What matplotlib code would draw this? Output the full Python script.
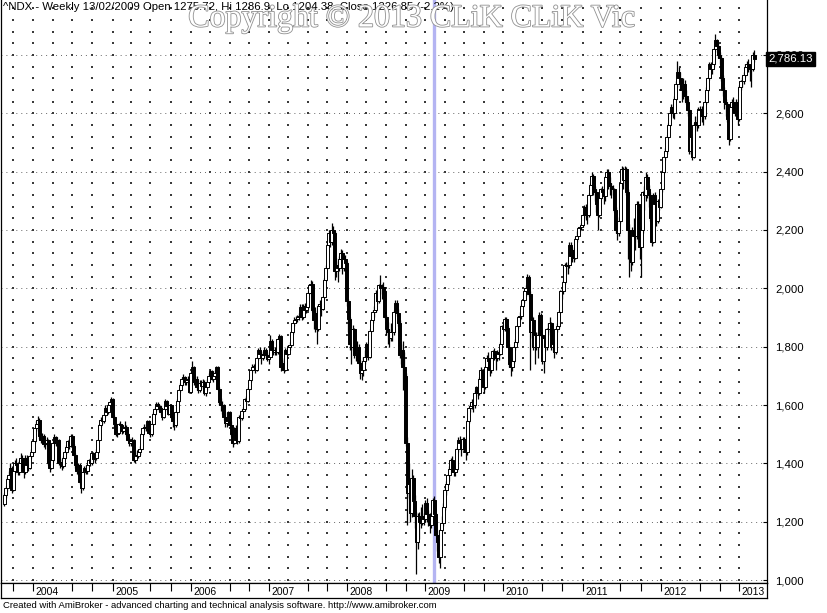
#!/usr/bin/env python3

import matplotlib
matplotlib.use("Agg")
import matplotlib.pyplot as plt
import matplotlib.patheffects as pe
import matplotlib.transforms as mtransforms
from matplotlib.patches import Rectangle
from matplotlib.collections import PatchCollection
import numpy as np
import pandas as pd

plt.rcParams["font.family"] = ["Liberation Sans", "DejaVu Sans"]

# weekly ^NDX bars, Fridays from 22/08/2003
first_week = "2003-08-22"
first_open = 1262

wk_close = [
    1290, 1315, 1345, 1360, 1385, 1310, 1375, 1400, 1395, 1370,
    1400, 1420, 1385, 1370, 1420, 1395, 1385, 1425, 1440, 1475,
    1520, 1535, 1550, 1495, 1480, 1495, 1465, 1470, 1480, 1400,
    1385, 1410, 1470, 1490, 1470, 1480, 1400, 1405, 1390, 1420,
    1440, 1455, 1475, 1460, 1495, 1460, 1430, 1395, 1375, 1395,
    1335, 1315, 1370, 1385, 1375, 1395, 1410, 1400, 1435, 1415,
    1420, 1440, 1480, 1530, 1550, 1545, 1565, 1590, 1575, 1600,
    1610, 1621, 1560, 1535, 1500, 1505, 1535, 1530, 1510, 1520,
    1525, 1500, 1480, 1470, 1475, 1480, 1410, 1430, 1425, 1440,
    1450, 1500, 1520, 1525, 1520, 1545, 1505, 1500, 1535, 1570,
    1585, 1605, 1595, 1590, 1575, 1560, 1585, 1615, 1595, 1570,
    1600, 1560, 1545, 1530, 1575, 1615, 1650, 1670, 1690, 1695,
    1680, 1685, 1690, 1645, 1710, 1730, 1680, 1690, 1660, 1650,
    1675, 1665, 1680, 1640, 1660, 1680, 1700, 1715, 1690, 1700,
    1710, 1730, 1655, 1610, 1600, 1600, 1560, 1540, 1545, 1575,
    1530, 1500, 1470, 1520, 1480, 1475, 1560, 1555, 1580, 1585,
    1620, 1615, 1655, 1685, 1720, 1730, 1735, 1720, 1760, 1790,
    1775, 1760, 1770, 1790, 1770, 1757, 1765, 1820, 1790, 1780,
    1790, 1780, 1825, 1835, 1730, 1745, 1720, 1790, 1775, 1800,
    1805, 1850, 1880, 1890, 1895, 1900, 1905, 1935, 1900, 1940,
    1925, 1935, 1985, 2010, 2015, 1925, 1890, 1915, 1860, 1940,
    1945, 1930, 1970, 2030, 2070, 2150, 2190, 2160, 2200, 2190,
    2060, 2080, 2070, 2100, 2120, 2070, 2100, 2085, 1955, 1895,
    1810, 1800, 1860, 1770, 1775, 1800, 1745, 1710, 1720, 1750,
    1765, 1810, 1765, 1855, 1890, 1920, 1925, 1985, 1955, 2010,
    2000, 2005, 1990, 1900, 1860, 1850, 1830, 1850, 1850, 1920,
    1950, 1915, 1880, 1770, 1790, 1730, 1700, 1470, 1300, 1330,
    1230, 1350, 1270, 1220, 1130, 1220, 1200, 1195, 1220, 1210,
    1265, 1225, 1215, 1190, 1220, 1275.72, 1226.85, 1155, 1130, 1080,
    1170, 1195, 1250, 1310, 1330, 1360, 1380, 1410, 1380, 1370,
    1380, 1450, 1480, 1470, 1450, 1485, 1450, 1440, 1545, 1590,
    1595, 1610, 1600, 1640, 1660, 1640, 1690, 1720, 1690, 1660,
    1730, 1760, 1750, 1720, 1760, 1785, 1765, 1760, 1780, 1775,
    1810, 1870, 1860, 1895, 1865, 1800, 1740, 1730, 1750, 1800,
    1815, 1870, 1900, 1905, 1940, 1960, 1990, 2000, 2040, 1980,
    1850, 1890, 1800, 1840, 1800, 1840, 1910, 1840, 1750, 1830,
    1800, 1860, 1860, 1880, 1800, 1810, 1780, 1860, 1870, 1920,
    1990, 1990, 2020, 2080, 2075, 2080, 2150, 2110, 2130, 2105,
    2170, 2180, 2205, 2210, 2217, 2250, 2280, 2250, 2250, 2320,
    2355, 2385, 2340, 2330, 2290, 2250, 2310, 2340, 2330, 2315,
    2380, 2400, 2360, 2350, 2340, 2340, 2270, 2200, 2190, 2230,
    2360, 2410, 2370, 2410, 2330, 2200, 2130, 2090, 2200, 2180,
    2180, 2290, 2180, 2140, 2200, 2330, 2320, 2380, 2340, 2320,
    2240, 2160, 2320, 2290, 2230, 2300, 2278, 2340, 2400, 2450,
    2470, 2520, 2560, 2600, 2620, 2600, 2650, 2700, 2740, 2720,
    2700, 2680, 2700, 2660, 2640, 2610, 2470, 2520, 2450, 2560,
    2570, 2560, 2615, 2610, 2590, 2590, 2640, 2680, 2720, 2770,
    2750, 2770, 2820, 2850, 2830, 2800, 2790, 2720, 2680, 2640,
    2630, 2580, 2510, 2620, 2640, 2620, 2600, 2640, 2580, 2690,
    2710, 2710, 2730, 2760, 2770, 2760, 2750, 2750, 2800, 2786.13,
]

wk_high = [
    1300, 1322, 1352, 1375, 1400, 1392, 1380, 1410, 1420, 1405,
    1410, 1435, 1428, 1395, 1428, 1430, 1405, 1432, 1450, 1480,
    1525, 1545, 1562, 1555, 1505, 1505, 1500, 1485, 1490, 1485,
    1410, 1418, 1475, 1500, 1495, 1492, 1485, 1420, 1415, 1425,
    1445, 1462, 1480, 1485, 1500, 1500, 1465, 1435, 1400, 1400,
    1400, 1345, 1375, 1392, 1395, 1400, 1415, 1420, 1440, 1440,
    1435, 1450, 1485, 1535, 1560, 1555, 1570, 1600, 1598, 1605,
    1615, 1628, 1625, 1565, 1540, 1512, 1540, 1545, 1535, 1528,
    1545, 1530, 1505, 1490, 1485, 1492, 1485, 1440, 1445, 1448,
    1460, 1505, 1525, 1535, 1535, 1550, 1550, 1515, 1540, 1575,
    1592, 1612, 1610, 1602, 1595, 1582, 1590, 1620, 1618, 1600,
    1605, 1602, 1575, 1550, 1580, 1620, 1655, 1675, 1695, 1705,
    1700, 1695, 1700, 1695, 1715, 1750, 1735, 1700, 1700, 1670,
    1685, 1685, 1690, 1685, 1665, 1690, 1710, 1725, 1720, 1712,
    1720, 1735, 1735, 1660, 1625, 1615, 1605, 1575, 1560, 1580,
    1580, 1545, 1510, 1525, 1530, 1500, 1565, 1570, 1585, 1592,
    1625, 1630, 1660, 1690, 1725, 1740, 1742, 1745, 1765, 1795,
    1800, 1785, 1780, 1800, 1795, 1780, 1775, 1840, 1825, 1800,
    1800, 1800, 1830, 1845, 1840, 1760, 1755, 1795, 1795, 1805,
    1815, 1855, 1885, 1900, 1905, 1910, 1915, 1945, 1945, 1945,
    1950, 1945, 1990, 2015, 2030, 2025, 1935, 1935, 1925, 1945,
    1960, 1955, 1975, 2035, 2080, 2160, 2200, 2200, 2225, 2215,
    2195, 2105, 2095, 2110, 2135, 2130, 2110, 2115, 2095, 1965,
    1900, 1830, 1875, 1865, 1790, 1820, 1810, 1755, 1750, 1765,
    1790, 1815, 1815, 1860, 1895, 1925, 1940, 1995, 1990, 2015,
    2045, 2015, 2020, 1995, 1910, 1885, 1860, 1880, 1865, 1925,
    1960, 1960, 1930, 1890, 1810, 1820, 1780, 1710, 1490, 1400,
    1345, 1380, 1360, 1290, 1235, 1230, 1235, 1250, 1260, 1230,
    1275, 1280, 1240, 1230, 1235, 1280, 1286.9, 1230, 1170, 1140,
    1175, 1220, 1265, 1320, 1340, 1365, 1390, 1420, 1425, 1395,
    1400, 1455, 1490, 1495, 1475, 1490, 1490, 1460, 1550, 1595,
    1605, 1620, 1620, 1650, 1665, 1665, 1695, 1730, 1725, 1700,
    1735, 1770, 1780, 1760, 1765, 1790, 1795, 1780, 1790, 1790,
    1815, 1875, 1880, 1900, 1900, 1870, 1810, 1760, 1760, 1805,
    1825, 1875, 1905, 1920, 1945, 1965, 1995, 2010, 2050, 2045,
    1990, 1905, 1900, 1850, 1850, 1850, 1920, 1915, 1845, 1835,
    1840, 1865, 1880, 1900, 1885, 1825, 1820, 1865, 1880, 1925,
    1995, 2005, 2030, 2085, 2090, 2090, 2160, 2160, 2135, 2140,
    2175, 2195, 2210, 2215, 2225, 2255, 2285, 2290, 2275, 2325,
    2360, 2400, 2390, 2350, 2340, 2300, 2315, 2345, 2350, 2340,
    2385, 2410, 2410, 2380, 2360, 2355, 2345, 2280, 2220, 2245,
    2365, 2420, 2415, 2420, 2415, 2340, 2220, 2160, 2210, 2240,
    2220, 2300, 2300, 2210, 2210, 2335, 2350, 2400, 2390, 2355,
    2330, 2250, 2325, 2330, 2300, 2305, 2305, 2345, 2405, 2455,
    2480, 2525, 2565, 2610, 2630, 2630, 2660, 2710, 2780, 2760,
    2740, 2710, 2720, 2715, 2680, 2650, 2615, 2540, 2530, 2565,
    2590, 2590, 2620, 2625, 2625, 2605, 2645, 2690, 2725, 2775,
    2775, 2775, 2825, 2870, 2855, 2840, 2810, 2795, 2730, 2690,
    2650, 2640, 2590, 2625, 2650, 2655, 2640, 2650, 2650, 2695,
    2715, 2725, 2740, 2770, 2780, 2785, 2770, 2765, 2810, 2815,
]

wk_low = [
    1255, 1282, 1305, 1335, 1352, 1300, 1305, 1365, 1385, 1360,
    1360, 1390, 1375, 1350, 1362, 1388, 1375, 1380, 1418, 1432,
    1470, 1510, 1525, 1485, 1470, 1470, 1455, 1450, 1460, 1395,
    1372, 1380, 1405, 1462, 1460, 1462, 1395, 1385, 1378, 1385,
    1415, 1432, 1445, 1450, 1455, 1455, 1425, 1385, 1365, 1360,
    1330, 1300, 1310, 1365, 1365, 1365, 1390, 1390, 1395, 1405,
    1400, 1410, 1435, 1478, 1525, 1535, 1540, 1560, 1565, 1570,
    1595, 1605, 1555, 1525, 1495, 1490, 1500, 1520, 1500, 1505,
    1510, 1495, 1475, 1460, 1460, 1468, 1405, 1400, 1415, 1420,
    1430, 1445, 1495, 1510, 1510, 1515, 1500, 1490, 1495, 1530,
    1565, 1580, 1588, 1580, 1565, 1550, 1555, 1580, 1590, 1565,
    1565, 1555, 1525, 1515, 1525, 1570, 1610, 1645, 1665, 1680,
    1670, 1670, 1678, 1640, 1640, 1705, 1670, 1675, 1650, 1640,
    1645, 1655, 1660, 1635, 1630, 1650, 1675, 1690, 1685, 1680,
    1690, 1700, 1650, 1600, 1580, 1570, 1550, 1525, 1525, 1535,
    1525, 1495, 1455, 1465, 1470, 1465, 1470, 1545, 1550, 1575,
    1580, 1600, 1610, 1650, 1680, 1712, 1722, 1710, 1715, 1755,
    1760, 1740, 1755, 1765, 1760, 1750, 1740, 1760, 1785, 1770,
    1770, 1770, 1775, 1815, 1715, 1720, 1710, 1715, 1765, 1770,
    1790, 1800, 1845, 1870, 1880, 1885, 1890, 1900, 1890, 1895,
    1915, 1915, 1930, 1980, 2000, 1920, 1860, 1850, 1810, 1855,
    1920, 1905, 1925, 1965, 2025, 2065, 2140, 2140, 2150, 2180,
    2030, 2040, 2020, 2060, 2090, 2050, 2060, 2075, 1940, 1850,
    1790, 1740, 1790, 1760, 1750, 1760, 1740, 1690, 1685, 1700,
    1740, 1755, 1755, 1760, 1850, 1880, 1900, 1920, 1945, 1950,
    1980, 1965, 1980, 1895, 1840, 1810, 1800, 1820, 1820, 1840,
    1915, 1905, 1870, 1760, 1740, 1650, 1680, 1460, 1190, 1280,
    1200, 1215, 1250, 1180, 1020, 1105, 1140, 1180, 1190, 1190,
    1200, 1200, 1185, 1160, 1180, 1210, 1204.38, 1150, 1100, 1060,
    1043, 1165, 1185, 1240, 1290, 1325, 1340, 1370, 1370, 1355,
    1355, 1375, 1440, 1455, 1425, 1445, 1440, 1410, 1430, 1540,
    1575, 1585, 1575, 1590, 1630, 1620, 1635, 1685, 1680, 1640,
    1655, 1720, 1740, 1700, 1710, 1755, 1755, 1720, 1750, 1755,
    1770, 1805, 1855, 1855, 1855, 1795, 1730, 1700, 1715, 1745,
    1790, 1810, 1865, 1890, 1895, 1935, 1950, 1975, 1990, 1975,
    1720, 1830, 1790, 1740, 1790, 1760, 1835, 1835, 1740, 1710,
    1785, 1790, 1840, 1850, 1790, 1785, 1760, 1775, 1850, 1865,
    1915, 1965, 1980, 2015, 2050, 2050, 2070, 2100, 2090, 2090,
    2100, 2160, 2175, 2195, 2200, 2210, 2240, 2235, 2220, 2245,
    2315, 2350, 2320, 2300, 2260, 2200, 2245, 2305, 2320, 2290,
    2300, 2370, 2340, 2320, 2310, 2320, 2260, 2190, 2165, 2180,
    2225, 2350, 2340, 2360, 2320, 2100, 2040, 2060, 2080, 2170,
    2130, 2170, 2160, 2100, 2040, 2190, 2270, 2300, 2310, 2280,
    2230, 2145, 2155, 2260, 2215, 2225, 2270, 2275, 2330, 2395,
    2440, 2460, 2515, 2555, 2590, 2585, 2580, 2645, 2690, 2700,
    2680, 2640, 2650, 2640, 2630, 2590, 2460, 2460, 2440, 2445,
    2540, 2540, 2550, 2590, 2570, 2560, 2580, 2630, 2675, 2715,
    2735, 2735, 2760, 2810, 2820, 2790, 2770, 2710, 2660, 2615,
    2590, 2570, 2490, 2505, 2600, 2610, 2590, 2590, 2560, 2575,
    2680, 2690, 2700, 2725, 2750, 2740, 2710, 2690, 2745, 2775,
]

selected_week = "2009-02-13"
title = ("^NDX - Weekly 13/02/2009 Open 1275.72, Hi 1286.9, "
         "Lo 1204.38, Close 1226.85 (-2.2%)")
last_label = "2,786.13"
price_ticks = [1000, 1200, 1400, 1600, 1800, 2000, 2200, 2400, 2600, 2800]
watermark = "Copyright \u00a9 2013 CLiK CLiK Vic"
footer = ("Created with AmiBroker - advanced charting and technical "
          "analysis software. http://www.amibroker.com")

n = len(wk_close)
weeks = pd.date_range(first_week, periods=n, freq="W-FRI")
wk_open = [first_open] + wk_close[:-1]
x = np.arange(n)

# index of first bar of each year / quarter
new_month = np.r_[True, weeks.month[1:] != weeks.month[:-1]]
year_idx = [i for i in range(1, n) if weeks.year[i] != weeks.year[i - 1]]
quarter_idx = [i for i in range(n) if new_month[i] and weeks.month[i] in (1, 4, 7, 10)]
minor_idx = [i for i in quarter_idx if weeks.month[i] in (7, 10)]
sel_idx = int(np.where(weeks == pd.Timestamp(selected_week))[0][0])

W, H = 828, 613
fig = plt.figure(figsize=(W / 100, H / 100), dpi=100)
ax = fig.add_axes([1 / W, 30 / H, 766 / W, 583 / H])
strip = fig.add_axes([1 / W, 15 / H, 766 / W, 15 / H], sharex=ax)

ax.set_xlim(-2.3, 507.6)
ax.set_ylim(990, 2988)

# dotted grid: quarter columns of dots, dense rows every 200
gx, gy = np.meshgrid(quarter_idx, np.arange(1000, 2990, 40))
ax.scatter(gx.ravel(), gy.ravel(), s=0.8, marker="s", color="#3a3a3a",
           linewidths=0, zorder=1)
for p in price_ticks:
    ax.axhline(p, color="#505050", lw=0.65, ls=(0, (1, 4.5)), zorder=1)

ax.axvline(sel_idx, color="#b4b4f2", lw=2.4, zorder=1.5)

# candles
ax.vlines(x, wk_low, wk_high, color="black", lw=0.9, zorder=3)
bw = 2.0
rects, fcs = [], []
for i in range(n):
    o, c = wk_open[i], wk_close[i]
    rects.append(Rectangle((i - bw / 2, min(o, c)), bw, max(abs(c - o), 0.5)))
    fcs.append("white" if c >= o else "black")
ax.add_collection(PatchCollection(rects, facecolors=fcs, edgecolors="black",
                                  linewidths=0.7, zorder=4))

ax.yaxis.tick_right()
ax.set_yticks(price_ticks)
ax.set_yticklabels([f"{p:,}" for p in price_ticks])
ax.tick_params(axis="y", direction="in", length=3, width=0.8, pad=6,
               labelsize=8.2)
ax.tick_params(axis="x", bottom=False, labelbottom=False)
for s in ["left", "right", "bottom"]:
    ax.spines[s].set_linewidth(0.9)
ax.spines["top"].set_visible(False)

trans = mtransforms.blended_transform_factory(ax.transAxes, ax.transData)
ax.text(1.002, wk_close[-1], last_label, transform=trans, ha="left",
        va="center", fontsize=8.2, color="white", zorder=10, clip_on=False,
        bbox=dict(boxstyle="square,pad=0.2", facecolor="black",
                  edgecolor="black"))

# date strip
strip.set_ylim(0, 1)
strip.set_yticks([])
strip.tick_params(axis="x", bottom=False, labelbottom=False)
for s in strip.spines.values():
    s.set_linewidth(0.9)
strip.vlines(year_idx + minor_idx, 0.45, 1, color="black", lw=0.8)
for i in year_idx:
    strip.text(i + 1.8, 0.42, str(weeks.year[i]), ha="left", va="center",
               fontsize=7.5)

fig.text(3 / W, 1 - 7 / H, title, ha="left", va="center", fontsize=8.2)
fig.text(412 / W, 1 - 19 / H, watermark, ha="center", va="center",
         fontsize=23, family="Liberation Serif", color="white", zorder=20,
         path_effects=[pe.withStroke(linewidth=1.2, foreground="#909090")])
fig.text(3 / W, 1 - 606 / H, footer, ha="left", va="center", fontsize=6.8)

fig.savefig("out.png", dpi=100)
